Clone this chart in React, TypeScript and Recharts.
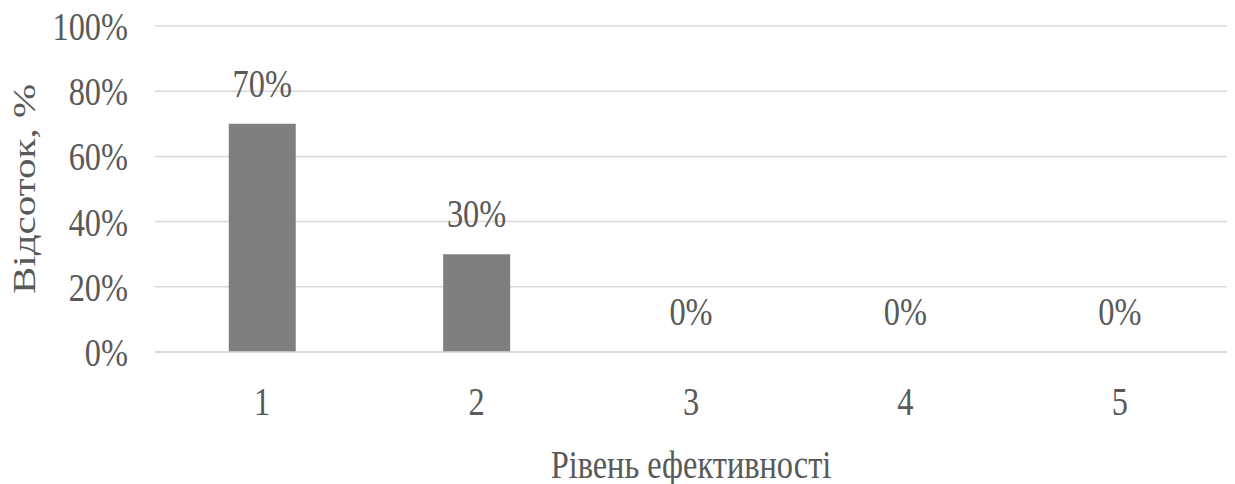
import { ComposedChart, Bar, Line, XAxis, YAxis, CartesianGrid, LabelList } from 'recharts';

const levels = ['1', '2', '3', '4', '5'];
const shares = [0.7, 0.3, 0, 0, 0];
const yTicks = [0, 0.2, 0.4, 0.6, 0.8, 1];

const data = levels.map((level, i) => ({ level, share: shares[i] }));

// the source picture is squeezed sideways, so every text gets the same squeeze
const SQUEEZE = 0.79;
const FONT = "'Liberation Serif', 'Times New Roman', serif";
const TEXT_COLOR = '#595959';

const pct = (v: number) => `${Math.round(v * 100)}%`;

function Squeezed({ x, y, anchor = 'middle', rotate = 0, children }: any) {
  const rot = rotate ? ` rotate(${rotate})` : '';
  return (
    <text
      transform={`translate(${x},${y}) scale(${SQUEEZE},1)${rot}`}
      textAnchor={anchor}
      style={{ fontFamily: FONT, fontSize: 41, fill: TEXT_COLOR }}
    >
      {children}
    </text>
  );
}

function YTick({ x, y, payload }: any) {
  return (
    <Squeezed x={x} y={y + 14} anchor="end">
      {pct(payload.value)}
    </Squeezed>
  );
}

function XTick({ x, y, payload }: any) {
  return (
    <Squeezed x={x} y={y + 55}>
      {payload.value}
    </Squeezed>
  );
}

// labels ride on an invisible line so that the zero values get one too
function ValueLabel({ x, y, value }: any) {
  return (
    <Squeezed x={x} y={y - 27}>
      {pct(value)}
    </Squeezed>
  );
}

export default function App() {
  return (
    <div style={{ position: 'absolute', left: 0, top: 0, background: '#fff' }}>
      <ComposedChart
        width={1235}
        height={484}
        data={data}
        margin={{ top: 26, right: 8, left: 10, bottom: 0 }}
        barCategoryGap="34.4%"
      >
        <CartesianGrid vertical={false} stroke="#d9d9d9" strokeWidth={1.5} />
        <XAxis
          dataKey="level"
          height={132}
          tickLine={false}
          axisLine={{ stroke: '#d9d9d9', strokeWidth: 1.5 }}
          tick={<XTick />}
          label={{
            content: ({ viewBox }: any) => (
              <Squeezed x={viewBox.x + viewBox.width / 2} y={viewBox.y + 126}>
                Рівень ефективності
              </Squeezed>
            ),
          }}
        />
        <YAxis
          width={145}
          domain={[0, 1]}
          ticks={yTicks}
          tickLine={false}
          axisLine={false}
          tickMargin={21}
          tick={<YTick />}
          label={{
            content: ({ viewBox }: any) => (
              <Squeezed x={35} y={viewBox.y + viewBox.height / 2} rotate={-90}>
                Відсоток, %
              </Squeezed>
            ),
          }}
        />
        <Bar dataKey="share" fill="#7f7f7f" isAnimationActive={false} />
        <Line
          dataKey="share"
          stroke="none"
          dot={false}
          activeDot={false}
          isAnimationActive={false}
        >
          <LabelList dataKey="share" content={<ValueLabel />} />
        </Line>
      </ComposedChart>
    </div>
  );
}
